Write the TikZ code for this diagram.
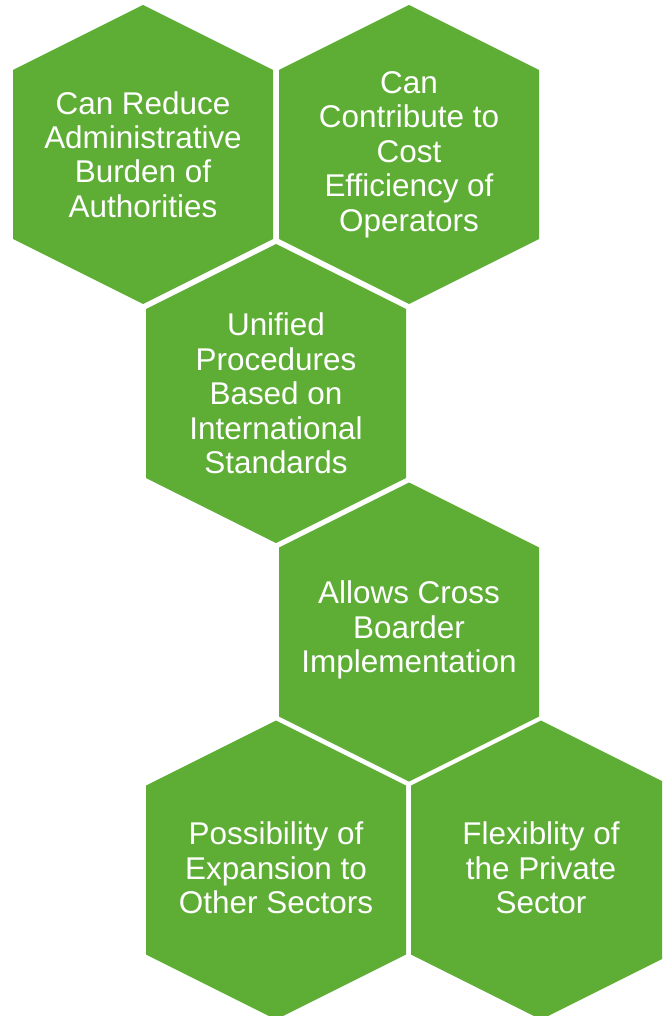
\documentclass[tikz,border=0pt]{standalone}
\usepackage{fontspec}
\setmainfont{Liberation Sans}
\usetikzlibrary{calc}
\definecolor{hexgreen}{RGB}{94,174,54}
\tikzset{
  hexfill/.style={fill=hexgreen},
  hextext/.style={text=white, align=center, font=\fontsize{17.9}{19.6}\selectfont}
}
\def\hexcell(#1,#2){\fill[hexfill,shift={(#1,#2)}] (0,-149.5) -- (130,-84.5) -- (130,84.5) -- (0,149.5) -- (-130,84.5) -- (-130,-84.5) -- cycle;}

\begin{document}
\begin{tikzpicture}[x=0.02cm,y=-0.02cm]
	%%%%% START %%%%%
	\useasboundingbox (0,0) rectangle (662,1016);
	\clip (0,0) rectangle (662,1016);
	
	\hexcell(143,154.5)
	\hexcell(409,154.5)
	\hexcell(276,393.5)
	\hexcell(409,632)
	\hexcell(276,870)
	\hexcell(541,870)
	
	\node[hextext] (reduce) at (143,154.5) {Can Reduce\\Administrative\\Burden of\\Authorities};
	\node[hextext] (contribute) at (409,154.5) {Can\\Contribute to\\Cost\\Efficiency of\\Operators};
	\node[hextext] (unified) at (276,393.5) {Unified\\Procedures\\Based on\\International\\Standards};
	\node[hextext] (crossborder) at (409,630) {Allows Cross\\Boarder\\Implementation};
	\node[hextext] (expansion) at (276,868) {Possibility of\\Expansion to\\Other Sectors};
	\node[hextext] (flexibility) at (541,868) {Flexiblity of\\the Private\\Sector};
	
	%%%%% END %%%%%
\end{tikzpicture}
\end{document}
